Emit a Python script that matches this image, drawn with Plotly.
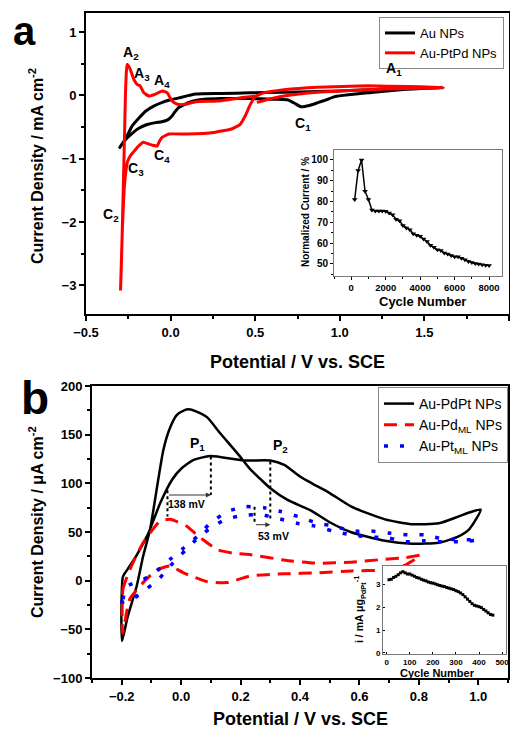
import plotly.graph_objects as go

FONT = "Liberation Sans, Arial, sans-serif"
# the page body adds an 8px margin, so the figure is drawn 8px smaller and
# reference pixel positions are shifted by that offset
OFF = 8
W, H = 518 - OFF, 733 - OFF

# ---------------- Panel a data (Potential V, Current density mA cm-2) ----------------
a_au_V = [-0.30, -0.267, -0.227, -0.188, -0.148, -0.10, -0.049, 0.0, 0.049, 0.148, 0.3, 0.47, 0.67, 0.87, 1.0, 1.165, 1.36, 1.61,
          1.58, 1.36, 1.165, 1.05, 0.97, 0.92, 0.87, 0.82, 0.77, 0.73, 0.69, 0.6, 0.47, 0.3, 0.2, 0.148, 0.108, 0.07, 0.049,
          0.02, 0.01, -0.02, -0.059, -0.089, -0.138, -0.188, -0.227, -0.267, -0.30]
a_au_J = [-0.82, -0.69, -0.48, -0.36, -0.25, -0.17, -0.11, -0.07, -0.04, 0.02, 0.03, 0.04, 0.05, 0.06, 0.07, 0.09, 0.11, 0.13,
          0.12, 0.09, 0.04, 0.01, -0.02, -0.07, -0.115, -0.16, -0.18, -0.12, -0.07, -0.06, -0.05, -0.05, -0.06, -0.08, -0.11, -0.16, -0.19,
          -0.28, -0.32, -0.39, -0.42, -0.43, -0.46, -0.52, -0.60, -0.70, -0.82]

a_ptpd_V = [0.51, 0.58, 0.67, 0.87, 1.165, 1.40, 1.61,
            1.55, 1.40, 1.165, 0.87, 0.67, 0.55, 0.50, 0.47, 0.44, 0.41, 0.36, 0.256, 0.10, -0.01, -0.049, -0.065,
            -0.08, -0.10, -0.128, -0.16, -0.19, -0.215, -0.237, -0.255, -0.272, -0.285, -0.296,
            -0.29, -0.28, -0.272, -0.267, -0.262, -0.257, -0.247, -0.237, -0.217, -0.197, -0.18, -0.158, -0.128, -0.089,
            -0.049, -0.02, 0.01, 0.04, 0.09, 0.148, 0.277, 0.41, 0.51]
a_ptpd_J = [-0.11, -0.06, -0.01, 0.05, 0.09, 0.11, 0.12,
            0.13, 0.14, 0.15, 0.13, 0.09, 0.04, -0.02, -0.15, -0.33, -0.46, -0.53, -0.585, -0.61, -0.61, -0.66, -0.72,
            -0.80, -0.79, -0.77, -0.74, -0.80, -0.88, -0.95, -1.05, -1.4, -2.1, -3.08,
            -2.6, -1.5, -0.6, 0.0, 0.35, 0.49, 0.46, 0.40, 0.25, 0.17, 0.15, 0.04, -0.01, 0.02,
            0.07, 0.04, -0.09, -0.14, -0.14, -0.10, -0.09, -0.04, -0.01]

a_labels = ["A<sub>1</sub>", "A<sub>2</sub>", "A<sub>3</sub>", "A<sub>4</sub>",
            "C<sub>1</sub>", "C<sub>2</sub>", "C<sub>3</sub>", "C<sub>4</sub>"]
a_label_V = [1.323, -0.237, -0.168, -0.049, 0.78, -0.355, -0.207, -0.049]
a_label_J = [0.41, 0.67, 0.33, 0.22, -0.455, -1.89, -1.16, -0.95]

# Inset a: stability
ia_cycles = [200, 400, 600, 800, 1000, 1200, 1400, 1600, 1800, 2000, 2200, 2400, 2600, 2800, 3000, 3200, 3400, 3600,
             3800, 4000, 4200, 4400, 4600, 4800, 5000, 5200, 5400, 5600, 5800, 6000, 6200, 6400, 6600, 6800, 7000,
             7200, 7400, 7600, 7800, 8000]
ia_norm = [81, 95, 100, 85, 81, 76, 75.5, 75.5, 75.5, 75.3, 74.5, 73.6, 71.5, 70.8, 68.5, 67.3, 66.5, 64.5,
           63.8, 63.3, 62, 60.8, 59, 58, 56.8, 56.5, 55.3, 54.8, 54, 53.5, 53.4, 52.7, 52, 51.2, 50.7,
           50.2, 50, 49.6, 49.4, 49.2]

# ---------------- Panel b data (Potential V, Current density uA cm-2) ----------------
b_pdpt_V = [-0.199, -0.18, -0.15, -0.128, -0.105, -0.077, -0.06, -0.04, -0.015, 0.01, 0.025, 0.05, 0.087, 0.13, 0.189,
            0.234, 0.268, 0.30, 0.358, 0.437, 0.5, 0.57, 0.686, 0.776, 0.867, 0.93, 0.97, 1.008,
            0.97, 0.934, 0.867, 0.776, 0.686, 0.573, 0.5, 0.44, 0.40, 0.347, 0.30, 0.21, 0.098, 0.042, 0.0, -0.03,
            -0.07, -0.11, -0.15, -0.184, -0.196, -0.199]
b_pdpt_J = [-62, -37, -6, 25, 52, 104, 134, 155, 170, 175, 176, 174, 168, 152, 131,
            114, 104, 95, 83, 72, 60, 50, 41, 38, 39, 45, 53, 73,
            70, 66, 59, 58, 63, 76, 90, 100, 107, 119, 123.5, 123.5, 128, 124, 115, 104,
            80, 49, 26, 10, 4, -62]

b_pd_V = [-0.197, -0.196, -0.173, -0.128, -0.071, -0.037, 0.019, 0.053, 0.121, 0.18, 0.234, 0.35, 0.46, 0.573, 0.686,
          0.754, 0.805, 0.754, 0.686, 0.573, 0.46, 0.347, 0.234, 0.155, 0.087, 0.008, -0.037, -0.082, -0.128,
          -0.173, -0.197]
b_pd_J = [-54, -9, 11, 39, 61, 63, 56, 47, 32, 28, 26.7, 21, 18, 19, 22,
          23.5, 26, 16, 11, 10, 8, 7, 5, -2, -1, 8, 15, 11, -2,
          -19, -54]

b_pt_V = [-0.2, -0.196, -0.184, -0.128, -0.082, -0.037, 0.002, 0.053, 0.098, 0.155, 0.217, 0.279, 0.336, 0.392, 0.46,
          0.516, 0.573, 0.64, 0.697, 0.765, 0.82, 0.878, 0.946, 1.0,
          0.946, 0.878, 0.82, 0.754, 0.697, 0.63, 0.573, 0.51, 0.45, 0.39, 0.324, 0.268, 0.206, 0.149, 0.098, 0.05,
          -0.037, -0.077, -0.128, -0.173, -0.2]
b_pt_J = [-22, -19, -6, 1, 10, 22, 32, 45, 59, 71, 76, 75, 71, 66, 59,
          56, 51, 51, 49, 47, 47, 43, 42, 42,
          40, 40, 41, 40, 44, 45, 47, 51, 56, 59, 64, 68, 67, 63, 54, 42,
          15, 1, -11, -21, -22]

# peak-separation marks: (V, J_top, J_bottom)
b_mark_V = [-0.046, 0.10, 0.247, 0.30]
b_mark_Jtop = [93, 127.6, 76, 122.5]
b_mark_Jbot = [66, 88, 57.5, 62.6]

# Inset b: mass activity vs cycle
ib_cycles = [10, 20, 30, 40, 50, 60, 70, 80, 90, 100, 110, 120, 130, 140, 150, 160, 170, 180, 190, 200, 210, 220,
             230, 240, 250, 260, 270, 280, 290, 300, 310, 320, 330, 340, 350, 360, 370, 380, 390, 400, 410, 420,
             430, 440, 450, 460]
ib_i = [3.2, 3.22, 3.3, 3.35, 3.42, 3.5, 3.55, 3.5, 3.45, 3.45, 3.4, 3.35, 3.3, 3.27, 3.22, 3.18, 3.15, 3.1, 3.07,
        3.05, 3.02, 2.98, 2.95, 2.92, 2.9, 2.86, 2.83, 2.8, 2.77, 2.72, 2.68, 2.62, 2.55, 2.45, 2.35, 2.25, 2.15,
        2.08, 2.05, 2.02, 1.98, 1.9, 1.83, 1.75, 1.68, 1.65]


def px(xp):
    return (xp - OFF) / W


def py(yp):
    return 1 - (yp - OFF) / H


fig = go.Figure()

# panel a traces
fig.add_trace(go.Scatter(x=a_au_V, y=a_au_J, mode="lines", name="Au NPs",
                         line=dict(color="black", width=3, shape="spline", smoothing=0.5),
                         xaxis="x", yaxis="y", legend="legend"))
fig.add_trace(go.Scatter(x=a_ptpd_V, y=a_ptpd_J, mode="lines", name="Au-PtPd NPs",
                         line=dict(color="#ff0000", width=3, shape="spline", smoothing=0.4),
                         xaxis="x", yaxis="y", legend="legend"))
# inset a
fig.add_trace(go.Scatter(x=ia_cycles, y=ia_norm, mode="lines+markers", showlegend=False,
                         line=dict(color="black", width=1.5),
                         marker=dict(symbol="triangle-down", size=5, color="black"),
                         xaxis="x2", yaxis="y2"))
# panel b traces
fig.add_trace(go.Scatter(x=b_pdpt_V, y=b_pdpt_J, mode="lines", name="Au-PdPt NPs",
                         line=dict(color="black", width=2.5, shape="spline", smoothing=0.6),
                         xaxis="x3", yaxis="y3", legend="legend2"))
fig.add_trace(go.Scatter(x=b_pd_V, y=b_pd_J, mode="lines", name="Au-Pd<sub>ML</sub> NPs",
                         line=dict(color="#ff0000", width=3, dash="13px,8px", shape="spline", smoothing=0.5),
                         xaxis="x3", yaxis="y3", legend="legend2"))
fig.add_trace(go.Scatter(x=b_pt_V, y=b_pt_J, mode="lines", name="Au-Pt<sub>ML</sub> NPs",
                         line=dict(color="#0000ff", width=3.5, dash="4px,12px", shape="spline", smoothing=0.5),
                         xaxis="x3", yaxis="y3", legend="legend2"))
# inset b
fig.add_trace(go.Scatter(x=ib_cycles, y=ib_i, mode="lines+markers", showlegend=False,
                         line=dict(color="black", width=1.2),
                         marker=dict(symbol="square", size=3, color="black"),
                         xaxis="x4", yaxis="y4"))

# peak marker dotted lines
for v, jt, jb in zip(b_mark_V, b_mark_Jtop, b_mark_Jbot):
    fig.add_trace(go.Scatter(x=[v, v], y=[jt, jb], mode="lines", showlegend=False,
                             line=dict(color="black", width=2, dash="dot"), xaxis="x3", yaxis="y3"))

tick_font = dict(family=FONT, size=13, color="black", weight="bold")
main_ax = dict(showline=True, linecolor="black", linewidth=2, mirror=True, ticks="outside", ticklen=5,
               tickwidth=1.5, tickcolor="black", showgrid=False, zeroline=False, tickfont=tick_font,
               automargin=False)
inset_ax = dict(showline=True, linecolor="#777", linewidth=1, mirror=True, ticks="outside", ticklen=3,
                tickwidth=1, tickcolor="black", showgrid=False, zeroline=False, automargin=False)

fig.update_layout(
    template="none",
    width=W, height=H, margin=dict(l=0, r=0, t=0, b=0, autoexpand=False),
    paper_bgcolor="white", plot_bgcolor="white",
    font=dict(family=FONT, color="black"),
    xaxis=dict(main_ax, domain=[px(86), px(509)], range=[-0.5, 2.0], dtick=0.5, tickformat=".1f",
               minor=dict(dtick=0.25, ticks="outside", ticklen=3, tickcolor="black"), anchor="y"),
    yaxis=dict(main_ax, domain=[py(314), py(13)], range=[-3.45, 1.3], dtick=1,
               minor=dict(dtick=0.5, ticks="outside", ticklen=3, tickcolor="black"), anchor="x"),
    xaxis2=dict(inset_ax, domain=[px(334), px(502)], range=[-1000, 8750], tickvals=[0, 2000, 4000, 6000, 8000],
                tickfont=dict(family=FONT, size=9.5, color="black", weight="bold"), anchor="y2",
                minor=dict(dtick=1000, ticks="outside", ticklen=2, tickcolor="black")),
    yaxis2=dict(inset_ax, domain=[py(276), py(150)], range=[44.2, 104.8], tickvals=[50, 60, 70, 80, 90, 100],
                tickfont=dict(family=FONT, size=10, color="black", weight="bold"), anchor="x2",
                minor=dict(dtick=5, ticks="outside", ticklen=2, tickcolor="black")),
    xaxis3=dict(main_ax, domain=[px(92), px(508)], range=[-0.3, 1.1], dtick=0.2, tickformat=".1f",
                minor=dict(dtick=0.1, ticks="outside", ticklen=3, tickcolor="black"), anchor="y3"),
    yaxis3=dict(main_ax, domain=[py(678), py(386)], range=[-100, 200], dtick=50,
                minor=dict(dtick=25, ticks="outside", ticklen=3, tickcolor="black"), anchor="x3"),
    xaxis4=dict(inset_ax, domain=[px(383), px(506)], range=[-16, 517], tickvals=[0, 100, 200, 300, 400, 500],
                ticks="inside", ticklen=2,
                tickfont=dict(family=FONT, size=8, color="black", weight="bold"), anchor="y4"),
    yaxis4=dict(inset_ax, domain=[py(654), py(566)], range=[-0.05, 3.8], tickvals=[0, 1, 2, 3],
                ticks="inside", ticklen=2,
                tickfont=dict(family=FONT, size=8, color="black", weight="bold"), anchor="x4"),
    legend=dict(x=px(504), y=py(17), xanchor="right", yanchor="top", bgcolor="white", bordercolor="#888",
                borderwidth=1, font=dict(family=FONT, size=13, color="black"), tracegroupgap=0,
                itemwidth=30),
    legend2=dict(x=px(508), y=py(387), xanchor="right", yanchor="top", bgcolor="white", bordercolor="#888",
                 borderwidth=1, font=dict(family=FONT, size=14, color="black"), tracegroupgap=0,
                 itemwidth=30),
    hovermode=False,
)

ann = []


def bold(sz):
    return dict(family=FONT, size=sz, color="black", weight="bold")


def label(text, x, y, sz, angle=0, xref="paper", yref="paper"):
    if xref == "paper":
        x = px(x)
        y = py(y)
    return dict(text=text, x=x, y=y, xref=xref, yref=yref, showarrow=False, font=bold(sz),
                textangle=angle, xanchor="center", yanchor="middle")


# panel letters
ann.append(label("a", 24, 31, 40))
ann.append(label("b", 35, 398, 46))
# axis titles
ann.append(label("Potential / V vs. SCE", 297, 362, 18))
ann.append(label("Potential / V vs. SCE", 300, 719, 18))
ann.append(label("Current Density / mA cm<sup>-2</sup>", 36, 166, 16, -90))
ann.append(label("Current Density / μA cm<sup>-2</sup>", 36, 522, 16, -90))
# inset titles
ann.append(label("Cycle Number", 422, 301, 13))
ann.append(label("Normalized Current / %", 305, 212, 10, -90))
ann.append(label("Cycle Number", 437, 673, 11))
ann.append(label("i / mA μg<sub>PdPt</sub><sup>-1</sup>", 360, 610, 10.5, -90))
# peak labels panel a
for t, v, j in zip(a_labels, a_label_V, a_label_J):
    ann.append(label(t, v, j, 14, xref="x", yref="y"))
# panel b labels
ann.append(label("P<sub>1</sub>", 0.054, 140, 14, xref="x3", yref="y3"))
ann.append(label("P<sub>2</sub>", 0.336, 138, 14, xref="x3", yref="y3"))
ann.append(label("138 mV", 0.019, 79, 10.5, xref="x3", yref="y3"))
ann.append(label("53 mV", 0.31, 46, 10.5, xref="x3", yref="y3"))
# arrows
ann.append(dict(text="", x=b_mark_V[1], y=88, ax=b_mark_V[0], ay=88, xref="x3", yref="y3", axref="x3", ayref="y3",
                showarrow=True, arrowhead=2, arrowsize=1, arrowwidth=1, arrowcolor="#333"))
ann.append(dict(text="", x=b_mark_V[3], y=57.5, ax=b_mark_V[2], ay=57.5, xref="x3", yref="y3", axref="x3",
                ayref="y3", showarrow=True, arrowhead=2, arrowsize=1, arrowwidth=1, arrowcolor="#333"))

fig.update_layout(annotations=ann)
fig.write_html("out.html")
